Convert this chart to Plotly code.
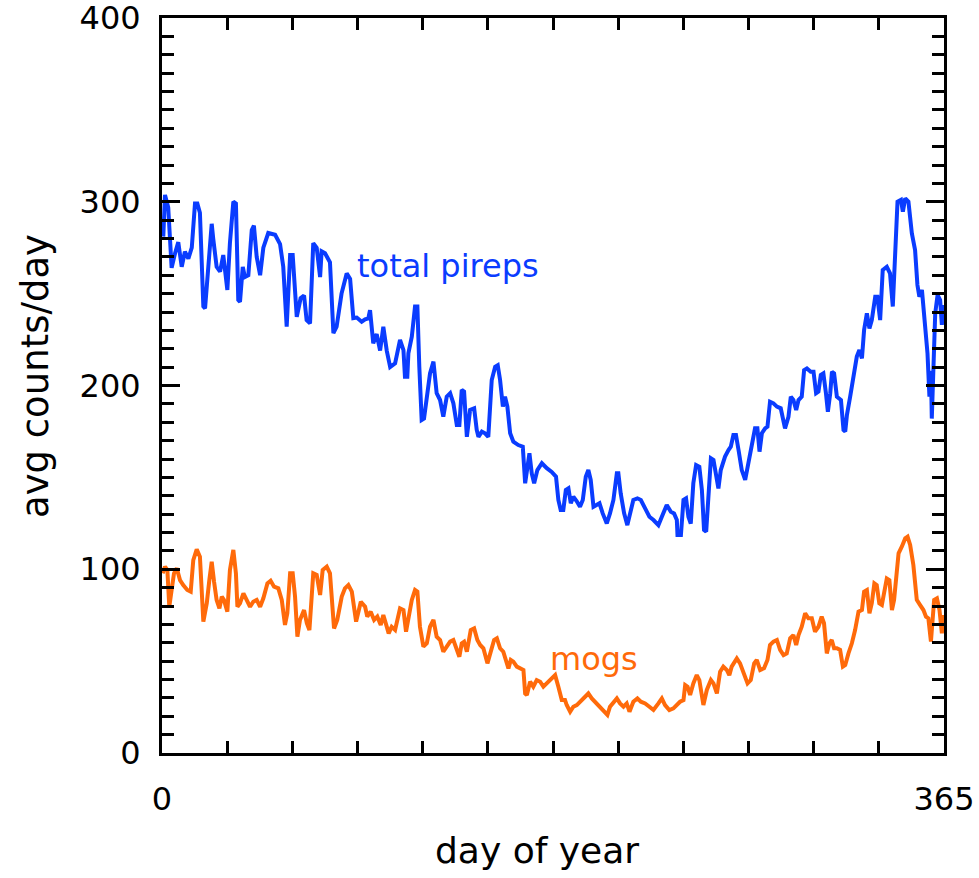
import plotly.graph_objects as go

# Daily-average report counts through the year
pirep_day = [0.6, 1.4, 2.9, 4.5, 6.1, 7.6, 9.2, 10.7, 12.3, 13.9, 15.4, 16.5, 17.7, 19.3, 20.1, 21.6,
             23.2, 23.9, 25.5, 27.1, 28.6, 30.5, 31.7, 33.3, 34.5, 35.6, 36.4, 37.7, 38.7, 40.3, 41.9,
             42.9, 44.2, 45.8, 47.3, 49.6, 52.8, 55.1, 56.6, 58.2, 59.8, 61.0, 62.1, 62.9, 64.7, 66.3,
             67.5, 69.1, 70.6, 72.2, 73.8, 74.5, 76.1, 78.4, 80.0, 81.5, 83.8, 86.2, 87.8, 89.3, 90.9,
             93.2, 94.8, 96.3, 97.1, 98.6, 100.2, 101.8, 103.3, 104.9, 106.5, 108.8, 111.1, 112.7,
             113.4, 114.5, 115.0, 116.6, 118.1, 119.2, 120.1, 121.2, 122.3, 123.6, 125.1, 126.7,
             128.2, 129.8, 131.3, 132.9, 134.5, 136.0, 137.6, 138.8, 139.9, 141.0, 142.3, 143.8,
             145.7, 146.9, 147.7, 149.3, 150.8, 152.3, 153.9, 155.5, 156.7, 157.8, 159.1, 160.1,
             161.2, 162.5, 164.0, 166.3, 168.4, 169.5, 170.5, 171.5, 172.6, 173.7, 175.2, 177.3,
             179.6, 181.9, 183.9, 185.0, 186.1, 187.3, 188.5, 189.7, 190.8, 192.0, 193.6, 195.1,
             196.4, 197.8, 199.0, 200.1, 201.4, 202.9, 204.2, 205.7, 207.6, 209.1, 210.7, 212.3,
             213.0, 214.1, 215.7, 217.2, 218.8, 220.0, 221.9, 223.5, 225.5, 227.5, 229.4, 231.7,
             233.3, 235.6, 237.5, 239.0, 240.3, 240.6, 242.2, 243.4, 244.6, 245.7, 246.8, 248.0,
             249.3, 250.8, 252.0, 253.0, 254.0, 255.0, 256.2, 257.4, 258.6, 259.7, 260.8, 262.8,
             264.4, 265.5, 266.7, 267.9, 269.1, 270.6, 272.2, 273.7, 275.3, 276.8, 277.9, 278.9,
             280.0, 281.5, 282.6, 283.8, 285.4, 287.0, 288.8, 290.8, 292.4, 293.5, 294.7, 296.0,
             297.1, 298.6, 299.7, 301.0, 302.8, 304.1, 305.3, 306.4, 307.5, 308.7, 309.9, 310.8,
             311.9, 312.7, 313.7, 315.0, 316.9, 318.1, 318.9, 319.7, 321.2, 322.7, 324.3, 325.5,
             326.7, 327.7, 329.0, 330.2, 331.3, 332.9, 333.9, 335.2, 336.4, 338.3, 339.8, 341.1,
             342.2, 343.3, 344.9, 345.8, 346.9, 348.4, 350.0, 351.5, 352.6, 353.5, 354.7, 356.2,
             357.3, 358.2, 358.9, 359.3, 360.1, 360.9, 362.0, 363.2, 364.0, 364.7]
pirep_val = [281, 303.7, 297, 264, 272, 278, 264.6, 272.8, 269, 275, 299, 299, 294, 243, 242, 263,
             288, 280, 264.6, 262, 271, 252, 277.5, 300, 299, 246.5, 245.5, 264.6, 259, 260, 284.6,
             287, 270, 260, 275, 283, 282, 277, 264.6, 232, 271, 271, 253.8, 237.4, 247.5, 249,
             235.6, 233.8, 277.5, 275, 259, 273, 272, 267, 228.5, 232, 250, 261, 258, 236.7, 237,
             234.7, 236, 236.5, 241, 223, 228, 219, 232, 219, 210, 212, 224.8, 219.3,
             204.8, 204.8, 217.5, 226.6, 243, 243, 210.2, 181.2, 182, 193.9, 206.6, 213,
             195.8, 192.1, 183, 193.9, 195.8, 190.3, 178.5, 178.5, 197.6, 196.7, 172.1, 186.7,
             187.6, 175.8, 172.1, 174.9, 174, 172.1, 203, 210.2, 211, 203, 188.5, 193.9,
             188.5, 174, 169.4, 167.6, 166.7, 146.8, 155.8, 163.1, 152, 146.8, 154, 157.7,
             155, 153, 150.4, 137.7, 132.2, 132.2, 143.1, 144, 135.9, 139.5, 137, 134,
             137.7, 150.4, 154, 148.6, 134, 135, 135.9, 130.4, 124.9, 130.4, 137.7, 152.2,
             152.2, 141.3, 130.4, 124, 132.2, 137.7, 138.6, 137.7, 133.1, 128.6, 126.8, 124,
             128.6, 135, 131.3, 130.4, 126.8, 118.6, 118.6, 137.7, 138.6, 128.6, 124.9, 146.8,
             156.7, 155.8, 143.1, 121.4, 120.5, 143.1, 160.4, 159.5, 150.4, 144, 154, 161.3,
             164.9, 166.7, 173, 173, 164.9, 154, 148.6, 157.7, 164.9, 176.7, 176.7, 164,
             174, 176.7, 177.6, 191.2, 190.3, 188.5, 187.6, 176.7, 183, 193.9, 192.1, 186.7,
             192.1, 193.9, 208.4, 209.3, 207.5, 207.5, 195.8, 196.7, 205.7, 206.6, 195.8, 185.7,
             195.8, 207.5, 206.6, 193.9, 192.1, 175.8, 175, 184, 193.9, 204.8, 215.7, 219.3,
             214.8, 230.2, 239.3, 231, 235.6, 248.3, 248.3, 235.6, 262.9, 264.6, 261, 243,
             268.3, 300, 301, 294.6, 301.8, 300, 282.8, 273.7, 254.7, 248.3, 252, 232,
             217.5, 193.9, 208, 182, 213, 239.3, 249.3, 246.5, 233, 243.8]

mogs_day = [0.3, 1.4, 2.5, 3.4, 4.5, 5.6, 6.9, 8.4, 9.9, 11.8, 13.4, 14.6, 16.2, 17.7, 19.3, 20.9,
            22.1, 23.2, 24.3, 25.5, 26.8, 27.9, 28.9, 30.5, 31.7, 33.3, 34.5, 35.2, 36.4, 38.0, 39.5,
            41.1, 42.6, 44.2, 45.8, 47.3, 49.2, 50.7, 52.3, 54.3, 55.9, 57.4, 58.5, 59.8, 61.0, 62.1,
            63.2, 64.4, 66.3, 67.6, 68.8, 70.6, 72.2, 73.8, 75.0, 76.9, 78.4, 80.3, 81.8, 83.9, 85.4,
            87.0, 88.6, 90.6, 92.8, 94.8, 95.8, 97.4, 99.0, 100.5, 102.1, 103.3, 104.9, 105.8, 107.2,
            108.8, 111.1, 112.7, 113.9, 115.0, 116.6, 118.1, 119.2, 120.4, 122.0, 123.6, 125.1,
            126.7, 128.2, 129.8, 131.3, 132.9, 134.5, 136.0, 137.6, 138.8, 139.9, 141.0, 142.3,
            144.1, 145.7, 147.2, 148.5, 150.0, 151.9, 153.1, 155.0, 156.3, 157.8, 159.3, 160.6,
            161.7, 162.8, 164.0, 165.6, 167.1, 168.7, 169.5, 170.3, 171.8, 173.3, 174.9, 176.5,
            178.0, 179.6, 181.1, 183.5, 185.0, 186.6, 188.1, 188.9, 190.5, 192.0, 193.6, 195.9,
            197.5, 199.0, 200.6, 202.1, 204.5, 206.8, 207.9, 209.1, 210.7, 212.3, 213.8, 215.4,
            216.9, 218.2, 220.0, 221.9, 223.5, 225.5, 227.5, 229.4, 231.7, 233.3, 234.8, 236.8,
            238.7, 240.3, 241.8, 243.4, 244.2, 245.3, 246.5, 248.0, 249.6, 250.8, 252.0, 252.7,
            254.3, 256.2, 257.4, 259.0, 260.5, 262.0, 263.6, 264.8, 265.9, 268.3, 269.8, 271.4,
            273.3, 274.8, 276.4, 277.6, 279.2, 281.0, 282.6, 283.8, 285.4, 287.0, 288.5, 290.1,
            291.6, 293.2, 294.7, 296.0, 297.1, 298.6, 300.2, 301.7, 303.3, 304.8, 306.4, 307.9,
            309.0, 310.3, 311.5, 312.6, 313.7, 315.0, 316.5, 317.8, 318.9, 320.4, 322.0, 323.5,
            325.1, 326.7, 327.7, 329.0, 330.2, 331.3, 332.5, 333.6, 334.8, 336.0, 337.1, 338.3,
            339.5, 340.7, 341.7, 343.0, 343.8, 345.3, 346.9, 348.0, 349.2, 350.7, 352.3, 353.8,
            355.4, 356.6, 357.7, 358.9, 359.5, 360.4, 361.7, 362.9, 364.0, 364.7]
mogs_val = [97.8, 101.4, 99.6, 79.6, 88.7, 97.8, 100.5, 94.1, 91.4, 88.7, 87.8, 105, 110.8, 106.8,
            71.5, 81.5, 94.1, 104.1, 93.2, 83.3, 78.7, 85.1, 83.3, 76.9, 99.6, 110.5, 97.8, 79.6,
            81.5, 86.9, 83.3, 79.6, 82.3, 83.3, 79.6, 84.2, 92.3, 93.7, 90.5, 89.6, 83.3, 69.7, 76,
            97.8, 97.8, 85.1, 63.3, 72.4, 77.8, 70.6, 66.9, 97.8, 96.9, 86, 99.6, 101.4, 97.8, 67.8,
            72.4, 85.1, 89.6, 91.4, 87.8, 71.5, 82.3, 79.6, 74.2, 76.9, 72.4, 74.2, 69.7, 75.1,
            68.8, 65.1, 68.7, 67, 78.7, 77.8, 66, 74.2, 83.3, 88.7, 87.8, 68.7, 57.9, 59.7, 68.7,
            72.4, 63.3, 61.5, 55.1, 57.9, 60.6, 61.5, 56.9, 52.4, 59.7, 60.6, 55.1, 66.9, 67.8,
            61.5, 58.8, 57, 48.8, 54.2, 61.5, 62.4, 57, 55.1, 50.6, 46, 50.6, 49.7, 47, 46, 45.2,
            32.4, 31.5, 38.8, 36.1, 39.7, 38.8, 36.1, 37.9, 39.7, 42.4, 36.1, 28.8, 28.8, 26.1,
            22.5, 25.2, 26.1, 28.8, 30.6, 32.4, 29.7, 27.9, 25.2, 22.5, 20.7, 25.2, 27.9, 29.7, 27,
            25.2, 27, 22.5, 27.9, 29.7, 27.9, 27, 25.2, 23.4, 27, 29.7, 26.1, 23.4, 24.3, 26.1,
            27.9, 28.8, 37, 36.1, 31.6, 37.9, 42.4, 39.7, 32.4, 26.1, 34.3, 39.7, 37.9, 32.4,
            44.2, 47, 45.2, 42.4, 47, 51.5, 48.8, 43.3, 37.9, 39.7, 48.8, 50.6, 45.2, 46.1, 50.6,
            58.8, 60.6, 61.5, 56.1, 53.3, 54.2, 62.4, 64.2, 58.8, 64.2, 68.7, 76, 73.3, 73.3, 66,
            68.7, 74.2, 70.6, 54.2, 59.7, 61.5, 57, 57, 56.1, 47, 47.9, 54.2, 59.7, 66.9, 76.9,
            77.8, 87.8, 88.7, 76, 81.5, 92.3, 91.4, 81.5, 80.6, 87.8, 95, 94.1, 77.8, 83.3, 99.6,
            108.7, 112.3, 116.8, 117.7, 113.2, 102.3, 83.3, 80.6, 77.8, 74.2, 73.3, 60.6, 68.7,
            83.3, 84.2, 77.8, 65.1, 75.1]

# Axis ticks: month boundaries on x, labelled only at the ends; hundreds on y
x_tick_vals = [k * 365 / 12 for k in range(13)]
x_tick_text = ["0"] + [""] * 11 + ["365"]
y_tick_vals = [0, 100, 200, 300, 400]
y_tick_text = ["0", "100", "200", "300", "400"]

BLUE = "#0a3cff"
ORANGE = "#ff6a0a"
FONT = "DejaVu Sans"

fig = go.Figure()
fig.add_trace(go.Scatter(x=pirep_day, y=pirep_val, mode="lines",
                         line=dict(color=BLUE, width=4), showlegend=False))
fig.add_trace(go.Scatter(x=mogs_day, y=mogs_val, mode="lines",
                         line=dict(color=ORANGE, width=4), showlegend=False))

# Series labels placed next to their curves
fig.add_annotation(x=90.1, y=265, text="total pireps", showarrow=False,
                   xanchor="left", yanchor="middle",
                   font=dict(family=FONT, size=32, color=BLUE))
fig.add_annotation(x=180.2, y=51, text="mogs", showarrow=False,
                   xanchor="left", yanchor="middle",
                   font=dict(family=FONT, size=32, color=ORANGE))

# Axis titles
fig.add_annotation(x=0.48, y=-0.132, xref="paper", yref="paper", text="day of year",
                   showarrow=False, xanchor="center", yanchor="middle",
                   font=dict(family=FONT, size=36, color="black"))
fig.add_annotation(x=-0.161, y=0.513, xref="paper", yref="paper", text="avg counts/day",
                   showarrow=False, xanchor="center", yanchor="middle", textangle=-90,
                   font=dict(family=FONT, size=37, color="black"))

fig.update_layout(
    width=979, height=878,
    margin=dict(l=162, r=35, t=18, b=125, autoexpand=False),
    paper_bgcolor="white", plot_bgcolor="white",
    font=dict(family=FONT, size=32, color="black"),
    xaxis=dict(
        range=[0, 365], showgrid=False, zeroline=False,
        showline=True, linecolor="black", linewidth=3, mirror="ticks",
        tickmode="array", tickvals=x_tick_vals, ticktext=x_tick_text,
        ticks="inside", ticklen=12, tickwidth=2.5, tickcolor="black",
        ticklabelstandoff=16, ticklabeloverflow="allow",
        tickfont=dict(family=FONT, size=32, color="black"),
    ),
    yaxis=dict(
        range=[0, 400], showgrid=False, zeroline=False,
        showline=True, linecolor="black", linewidth=3, mirror="ticks",
        tickmode="array", tickvals=y_tick_vals, ticktext=y_tick_text,
        ticks="inside", ticklen=18, tickwidth=2.5, tickcolor="black",
        minor=dict(dtick=10, ticks="inside", ticklen=12, tickwidth=2.5,
                   tickcolor="black", showgrid=False),
        ticklabelstandoff=12, ticklabeloverflow="allow",
        tickfont=dict(family=FONT, size=32, color="black"),
    ),
)

fig.write_html("out.html")
